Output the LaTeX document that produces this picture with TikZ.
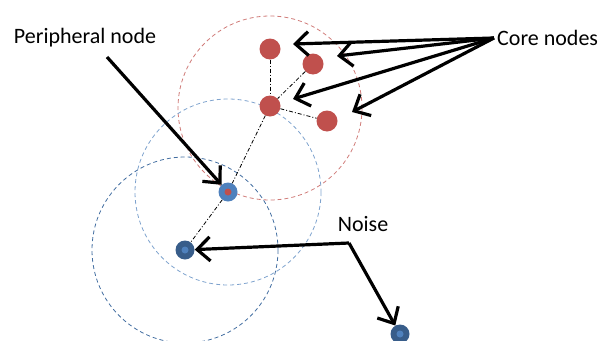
\documentclass[tikz,border=0pt]{standalone}
\usepackage{fontspec}
\setmainfont{Carlito}
\usetikzlibrary{arrows.meta}
\definecolor{cred}{HTML}{C0504D}
\definecolor{cblue}{HTML}{4F81BD}
\definecolor{cdblue}{HTML}{385D8A}
\definecolor{credl}{HTML}{D07B78}
\definecolor{cbluel}{HTML}{7FA3CE}
\begin{document}
\begin{tikzpicture}[x=1pt,y=-1pt,
  core/.style={circle,fill=cred,minimum size=21pt,inner sep=0pt},
  periph/.style={circle,fill=cblue,minimum size=19pt,inner sep=0pt},
  noisept/.style={circle,fill=cdblue,minimum size=19pt,inner sep=0pt},
  link/.style={dash pattern=on 4pt off 2pt on 1pt off 2pt,black,line width=0.8pt},
  rangecirc/.style={dash pattern=on 4pt off 3pt,line width=0.8pt},
  callout/.style={line width=3.2pt,-{Straight Barb[length=13pt,width=24pt,line width=3.2pt]}},
  lbl/.style={font=\fontsize{22}{26}\selectfont,inner sep=0pt}]
\useasboundingbox (0,0) rectangle (599,340);
% range circles
\draw[rangecirc,credl] (270,108) circle (92);
\draw[rangecirc,cbluel] (228,192) circle (93);
\draw[rangecirc,cblue!85!black] (185,250) circle (93);
% nodes
\node[core] (A) at (270,49) {};
\node[core] (B) at (313,64) {};
\node[core] (C) at (270,106) {};
\node[core] (D) at (327,121) {};
\node[periph] (P) at (228,192) {};
\node[circle,fill=cred,minimum size=7pt,inner sep=0pt] (Pc) at (228,192) {};
\node[noisept] (N1) at (185,250) {};
\node[circle,fill=cblue,minimum size=7pt,inner sep=0pt] (N1c) at (185,250) {};
\node[noisept] (N2) at (400,334) {};
\node[circle,fill=cblue,minimum size=7pt,inner sep=0pt] (N2c) at (400,334) {};
% links
\draw[link] (A) -- (C);
\draw[link] (B) -- (C);
\draw[link] (C) -- (D);
\draw[link] (C) -- (P);
\draw[link] (P) -- (N1);
% labels
\node[lbl] (lp) at (85,38) {Peripheral node};
\node[lbl,anchor=west] (lc) at (497,38) {Core nodes};
\node[lbl] (ln) at (363,224) {Noise};
\coordinate (cp) at (107,57);
\coordinate (cc) at (494,38);
\coordinate (cn) at (349,243);
% callouts
\draw[callout] (cp) -- (P);
\draw[callout] (cc) -- (293,44);
\draw[callout] (cc) -- (337,56);
\draw[callout] (cc) -- (293,99);
\draw[callout] (cc) -- (352,112);
\draw[callout] (cn) -- (N1);
\draw[callout] (cn) -- (N2);
\end{tikzpicture}
\end{document}
